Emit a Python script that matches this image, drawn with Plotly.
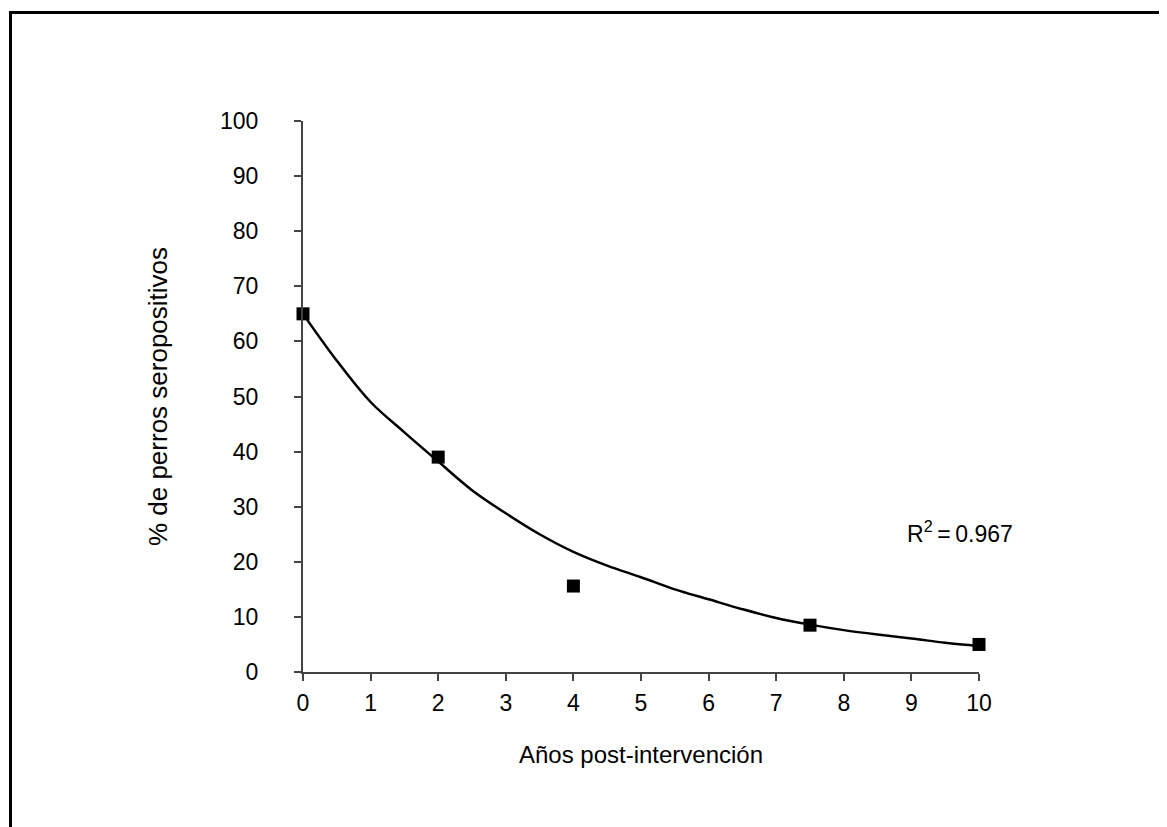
import plotly.graph_objects as go

# Observed data
years = [0, 2, 4, 7.5, 10]
seropositive = [65, 39, 15.6, 8.5, 5.0]

# Fitted trend curve
curve_x = [0, 0.5, 1, 1.5, 2, 2.5, 3, 3.5, 4, 4.5, 5, 5.5, 6, 6.5, 7, 7.5, 8, 8.5, 9, 9.5, 10]
curve_y = [65, 56.5, 49, 43.5, 38.2, 33, 28.8, 25, 21.8, 19.3, 17.2, 15, 13.2, 11.4, 9.8, 8.6, 7.6, 6.8, 6.1, 5.3, 4.7]

x_ticks = [0, 1, 2, 3, 4, 5, 6, 7, 8, 9, 10]
y_ticks = [0, 10, 20, 30, 40, 50, 60, 70, 80, 90, 100]

FONT = "Liberation Sans, Arial, Helvetica, sans-serif"

fig = go.Figure()
fig.add_trace(go.Scatter(
    x=curve_x, y=curve_y, mode="lines",
    line=dict(color="black", width=2.5, shape="spline"),
    showlegend=False, hoverinfo="skip", cliponaxis=False,
))
fig.add_trace(go.Scatter(
    x=years, y=seropositive, mode="markers",
    marker=dict(symbol="square", size=13, color="black"),
    showlegend=False, cliponaxis=False,
))

fig.add_annotation(
    x=9.72, y=25.5, xref="x", yref="y",
    text="R<sup>2</sup>\u2009=\u20090.967", showarrow=False,
    font=dict(family=FONT, size=23, color="black"),
)

# Outer frame (top and left edges visible)
fig.add_shape(type="line", xref="paper", yref="paper",
              x0=(10.5 - 303) / 676, x1=(1180 - 303) / 676,
              y0=(672 - 12.5) / 551, y1=(672 - 12.5) / 551,
              line=dict(color="black", width=3))
fig.add_shape(type="line", xref="paper", yref="paper",
              x0=(10.5 - 303) / 676, x1=(10.5 - 303) / 676,
              y0=(672 - 11) / 551, y1=(672 - 840) / 551,
              line=dict(color="black", width=3))

fig.update_layout(
    width=1167, height=827,
    margin=dict(l=295, r=196, t=113, b=163, autoexpand=False),
    paper_bgcolor="white", plot_bgcolor="white",
    font=dict(family=FONT, size=23, color="black"),
    xaxis=dict(
        range=[0, 10], tickvals=x_ticks, ticktext=[str(v) for v in x_ticks],
        showline=True, linecolor="#444", linewidth=2,
        ticks="outside", ticklen=7, tickwidth=2, tickcolor="#444",
        showgrid=False, zeroline=False, ticklabelstandoff=2,
        title=dict(text="Años post-intervención", font=dict(size=24), standoff=32),
        automargin=False, fixedrange=True,
    ),
    yaxis=dict(
        range=[0, 100], tickvals=y_ticks, ticktext=[str(v) for v in y_ticks],
        showline=True, linecolor="#444", linewidth=2,
        ticks="outside", ticklen=7, tickwidth=2, tickcolor="#444",
        showgrid=False, zeroline=False, ticklabelstandoff=31,
        title=dict(text="% de perros seropositivos", font=dict(size=26), standoff=45),
        automargin=False, fixedrange=True,
    ),
)

fig.write_html("out.html")
